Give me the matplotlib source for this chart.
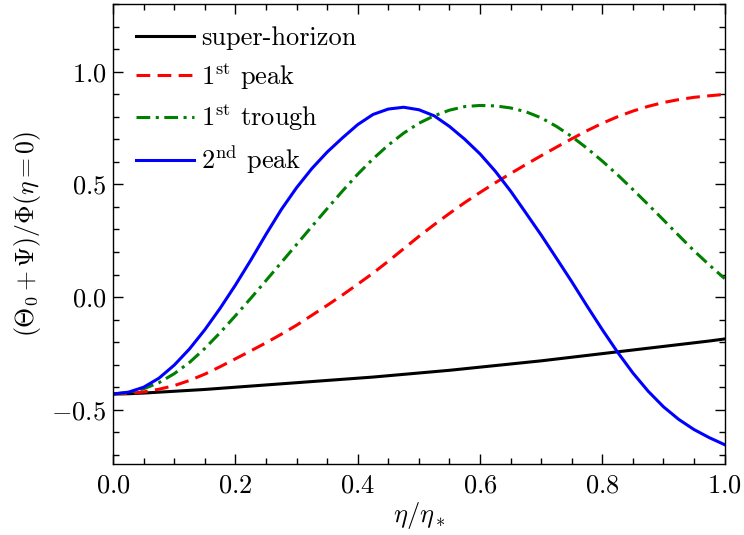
import matplotlib
matplotlib.use("Agg")
import matplotlib.pyplot as plt
from matplotlib.ticker import MultipleLocator

plt.rcParams["font.family"] = "serif"
plt.rcParams["font.serif"] = ["cmr10", "DejaVu Serif"]
plt.rcParams["mathtext.fontset"] = "cm"
plt.rcParams["axes.formatter.use_mathtext"] = True
plt.rcParams["axes.unicode_minus"] = True

# conformal time in units of eta_* (recombination)
eta = [0.000, 0.025, 0.050, 0.075, 0.100, 0.125, 0.150, 0.175, 0.200, 0.225,
       0.250, 0.275, 0.300, 0.325, 0.350, 0.375, 0.400, 0.425, 0.450, 0.475,
       0.500, 0.525, 0.550, 0.575, 0.600, 0.625, 0.650, 0.675, 0.700, 0.725,
       0.750, 0.775, 0.800, 0.825, 0.850, 0.875, 0.900, 0.925, 0.950, 0.975,
       1.000]

super_horizon = [-0.430, -0.429, -0.426, -0.422, -0.418, -0.414, -0.410,
                 -0.405, -0.400, -0.395, -0.390, -0.385, -0.380, -0.375,
                 -0.370, -0.365, -0.360, -0.355, -0.349, -0.343, -0.337,
                 -0.331, -0.325, -0.318, -0.311, -0.304, -0.297, -0.290,
                 -0.283, -0.275, -0.267, -0.259, -0.251, -0.243, -0.235,
                 -0.227, -0.219, -0.211, -0.203, -0.195, -0.186]

first_peak = [-0.430, -0.428, -0.421, -0.409, -0.393, -0.370, -0.342,
              -0.309, -0.274, -0.239, -0.203, -0.165, -0.125, -0.081,
              -0.037, 0.009, 0.057, 0.106, 0.159, 0.214, 0.269, 0.321,
              0.371, 0.419, 0.464, 0.507, 0.548, 0.588, 0.627, 0.665,
              0.702, 0.738, 0.771, 0.800, 0.825, 0.846, 0.863, 0.876,
              0.886, 0.893, 0.899]

first_trough = [-0.430, -0.424, -0.407, -0.380, -0.340, -0.290, -0.228,
                -0.158, -0.083, -0.006, 0.073, 0.153, 0.233, 0.313, 0.392,
                0.470, 0.545, 0.613, 0.674, 0.727, 0.771, 0.804, 0.829,
                0.845, 0.850, 0.848, 0.839, 0.822, 0.795, 0.757, 0.712,
                0.660, 0.603, 0.542, 0.477, 0.410, 0.342, 0.273, 0.205,
                0.142, 0.082]

second_peak = [-0.430, -0.422, -0.400, -0.360, -0.302, -0.230, -0.145,
               -0.050, 0.053, 0.163, 0.278, 0.388, 0.485, 0.570, 0.643,
               0.706, 0.765, 0.810, 0.834, 0.842, 0.831, 0.804, 0.757,
               0.700, 0.635, 0.558, 0.470, 0.373, 0.275, 0.172, 0.068,
               -0.040, -0.145, -0.245, -0.337, -0.418, -0.487, -0.543,
               -0.588, -0.624, -0.655]

fig = plt.figure(figsize=(7.44, 5.35), dpi=100)
ax = fig.add_axes([0.152, 0.133, 0.822, 0.8595])

lw = 2.2
ax.plot(eta, super_horizon, color="black", lw=lw, label="super-horizon")
ax.plot(eta, first_peak, color="red", lw=lw, dashes=(4.5, 2.4),
        label=r"1$^{\rm st}$ peak")
ax.plot(eta, first_trough, color="green", lw=lw, dashes=(4.5, 1.8, 1.0, 1.8),
        label=r"1$^{\rm st}$ trough")
ax.plot(eta, second_peak, color="blue", lw=lw, label=r"2$^{\rm nd}$ peak")

ax.set_xlim(0.0, 1.0)
ax.set_ylim(-0.74, 1.3)
ax.xaxis.set_major_locator(MultipleLocator(0.2))
ax.xaxis.set_minor_locator(MultipleLocator(0.05))
ax.yaxis.set_major_locator(MultipleLocator(0.5))
ax.yaxis.set_minor_locator(MultipleLocator(0.1))
ax.tick_params(which="both", direction="in", top=True, right=True,
               labelsize=19, width=1.0)
ax.tick_params(which="major", length=7)
ax.tick_params(which="minor", length=4)
ax.tick_params(axis="x", which="major", pad=7)
ax.tick_params(axis="y", which="major", pad=5)
for s in ax.spines.values():
    s.set_linewidth(1.0)

ax.set_xlabel(r"$\eta/\eta_*$", fontsize=19, labelpad=2)
ax.set_ylabel(r"$(\Theta_0+\Psi)/\Phi(\eta=0)$", fontsize=18.5, labelpad=6)

ax.legend(loc="upper left", frameon=False, fontsize=19, handlelength=2.2,
          handletextpad=0.3, labelspacing=0.4, borderaxespad=0.45)

fig.savefig("out.png", dpi=100)
